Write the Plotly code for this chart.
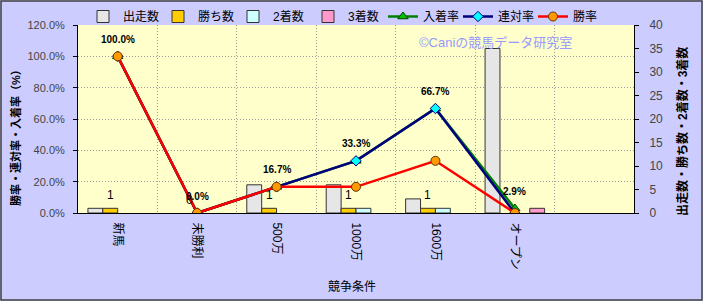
import plotly.graph_objects as go

categories = ["新馬", "未勝利", "500万", "1000万", "1600万", "オープン"]
starts = [1, 0, 6, 6, 3, 35]
wins = [1, 0, 1, 1, 1, 0]
seconds = [0, 0, 0, 1, 1, 0]
thirds = [0, 0, 0, 0, 0, 1]
place_rate = [1.0, 0.0, 0.167, 0.333, 0.667, 0.029]
quinella_rate = [1.0, 0.0, 0.167, 0.333, 0.667, 0.0]
win_rate = [1.0, 0.0, 0.167, 0.167, 0.333, 0.0]
win_labels = ["1", "0", "1", "1", "1", None]

xs = list(range(len(categories)))
FONT = "Liberation Sans, Arial, Noto Sans CJK JP"
W, H = 703, 301
ML, MR, MT, MB = 78, 69, 25, 88
PW, PH = W - ML - MR, H - MT - MB
BARGAP = 0.25
NBARS = 4

fig = go.Figure()
bar_specs = [
    ("出走数", starts, "#E6E6E6"),
    ("勝ち数", wins, "#FFCC00"),
    ("2着数", seconds, "#CCFFFF"),
    ("3着数", thirds, "#FF99CC"),
]
for name, vals, col in bar_specs:
    fig.add_trace(go.Bar(x=xs, y=[v if v else None for v in vals], name=name, yaxis="y",
                         marker=dict(color=col, line=dict(color="#333333", width=1))))

line_specs = [
    ("入着率", place_rate, "#008000", "triangle-up", "#00C000", "#004000", 9),
    ("連対率", quinella_rate, "#000080", "diamond", "#00FFFF", "#000080", 8),
    ("勝率", win_rate, "#FF0000", "circle", "#FF9900", "#663300", 9),
]
for name, vals, lc, sym, mc, ml, ms in line_specs:
    fig.add_trace(go.Scatter(x=xs, y=vals, name=name, yaxis="y2", mode="lines+markers",
                             line=dict(color=lc, width=2.5),
                             marker=dict(symbol=sym, color=mc, size=ms,
                                         line=dict(color=ml, width=1))))

annotations = []
for x, v in zip(xs, place_rate):
    annotations.append(dict(x=x, y=v, xref="x", yref="y2", text=f"{v:.1%}",
                            showarrow=False, yshift=17, xanchor="center", yanchor="middle",
                            font=dict(family=FONT, size=10, color="#000000", weight="bold")))
bw = (1 - BARGAP) / NBARS
win_offset = -(1 - BARGAP) / 2 + bw * 1.5
for x, v, t in zip(xs, wins, win_labels):
    if t is None:
        continue
    annotations.append(dict(x=x + win_offset, y=v, xref="x", yref="y", text=t,
                            showarrow=False, yshift=13, xanchor="center", yanchor="middle",
                            font=dict(family=FONT, size=12, color="#000000")))

def px_x(px):
    return (px - ML) / PW

def px_y(py):
    return 1 - (py - MT) / PH

annotations += [
    dict(x=px_x(495), y=px_y(43), xref="paper", yref="paper",
         text="©Caniの競馬データ研究室", showarrow=False, xanchor="center", yanchor="middle",
         font=dict(family=FONT, size=13, color="#9999FF")),
    dict(x=px_x(15), y=px_y(135), xref="paper", yref="paper",
         text="勝率・連対率・入着率（%）", showarrow=False, textangle=-90,
         xanchor="center", yanchor="middle",
         font=dict(family=FONT, size=11, color="#000000", weight="bold")),
    dict(x=px_x(682), y=px_y(132), xref="paper", yref="paper",
         text="出走数・勝ち数・2着数・3着数", showarrow=False, textangle=-90,
         xanchor="center", yanchor="middle",
         font=dict(family=FONT, size=12, color="#000000", weight="bold")),
    dict(x=px_x(352), y=px_y(287), xref="paper", yref="paper",
         text="競争条件", showarrow=False, xanchor="center", yanchor="middle",
         font=dict(family=FONT, size=12, color="#000000")),
]

GRID = "#9A9A9A"
fig.update_layout(
    width=W, height=H,
    margin=dict(l=ML, r=MR, t=MT, b=MB, pad=0, autoexpand=False),
    paper_bgcolor="#CCCCFF", plot_bgcolor="#FFFFCC",
    barmode="group", bargap=BARGAP, bargroupgap=0,
    font=dict(family=FONT, size=12, color="#000000"),
    showlegend=True,
    legend=dict(orientation="h", x=px_x(83), xanchor="left",
                y=px_y(2), yanchor="top", bgcolor="rgba(0,0,0,0)",
                font=dict(family=FONT, size=12), entrywidth=30, itemwidth=30,
                tracegroupgap=0),
    xaxis=dict(range=[-0.5, 6.5], tickvals=xs, ticktext=categories, tickangle=90,
               showgrid=False, zeroline=False, showline=True, linecolor="#000000",
               ticks="", ticklabelstandoff=6,
               tickfont=dict(family=FONT, size=12, color="#000000"),
               minor=dict(tick0=0.5, dtick=1, showgrid=True, griddash="1px,2px",
                          gridcolor=GRID, gridwidth=1)),
    yaxis=dict(side="right", range=[0, 40], dtick=5, showgrid=False, zeroline=False,
               showline=True, linecolor="#000000", ticks="outside", ticklen=4,
               tickcolor="#000000", ticklabelstandoff=8,
               tickfont=dict(family=FONT, size=12, color="#444444")),
    yaxis2=dict(side="left", overlaying="y", range=[0, 1.2], dtick=0.2,
                tickformat=".1%", showgrid=True, griddash="1px,2px", gridcolor=GRID,
                zeroline=False, showline=True, linecolor="#000000", ticks="outside",
                ticklen=4, tickcolor="#000000", ticklabelstandoff=6,
                tickfont=dict(family=FONT, size=11, color="#444444")),
    annotations=annotations,
    shapes=[dict(type="rect", xref="paper", yref="paper",
                 x0=(-ML + 1) / PW, x1=(PW + MR - 1) / PW,
                 y0=(-MB + 1) / PH, y1=(PH + MT - 1) / PH,
                 line=dict(color="#404040", width=1.5), layer="above")],
)

fig.write_html("out.html")
